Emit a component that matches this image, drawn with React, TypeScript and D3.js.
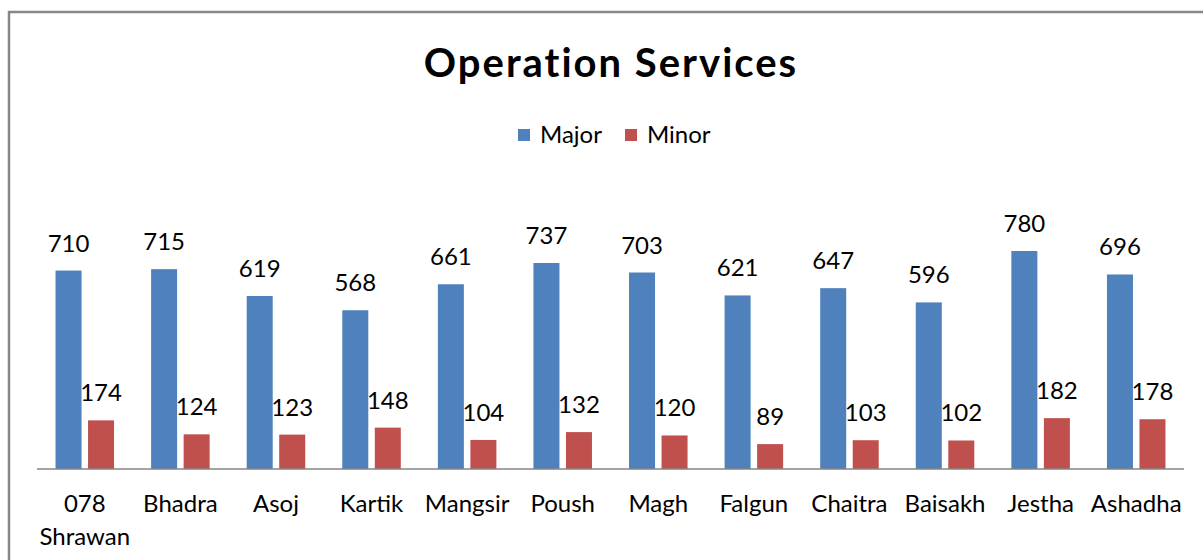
import React from 'react'
import * as d3 from 'd3'

const months = ['078 Shrawan', 'Bhadra', 'Asoj', 'Kartik', 'Mangsir', 'Poush', 'Magh', 'Falgun', 'Chaitra', 'Baisakh', 'Jestha', 'Ashadha']
const major = [710, 715, 619, 568, 661, 737, 703, 621, 647, 596, 780, 696]
const minor = [174, 124, 123, 148, 104, 132, 120, 89, 103, 102, 182, 178]
const seriesNames = ['Major', 'Minor']
const colors = ['#4F81BD', '#C0504D']

const width = 1203
const height = 560
const font = 'Lato, "Open Sans", sans-serif'

const App = () => {
  const x = d3.scaleBand<string>().domain(months).range([37, 1184]).padding(0)
  const xs = d3
    .scaleBand<string>()
    .domain(seriesNames)
    .range([0, x.bandwidth()])
    .paddingInner(0.2)
    .paddingOuter(0.57)
  const y = d3.scaleLinear().domain([0, 1000]).range([469, 189.5])

  const rows = months.map((m, i) => ({ m, vals: [major[i], minor[i]] }))

  return (
    <svg width={width} height={height} style={{ position: 'fixed', left: 0, top: 0, background: '#fff' }}>
      <rect x={9} y={12} width={1400} height={800} fill="#fff" stroke="#878787" strokeWidth={2.5} />
      <text
        x={611}
        y={77}
        textAnchor="middle"
        fontFamily={font}
        fontWeight="bold"
        fontSize={40}
        letterSpacing={2}
        fill="#000"
      >
        Operation Services
      </text>
      {seriesNames.map((s, i) => (
        <g key={s} transform={`translate(${i === 0 ? 518 : 625},0)`}>
          <rect x={0} y={129} width={12} height={12} fill={colors[i]} />
          <text x={22} y={143} fontFamily={font} fontSize={24} fill="#000">
            {s}
          </text>
        </g>
      ))}
      {rows.map((r) => (
        <g key={r.m} transform={`translate(${x(r.m)},0)`}>
          {r.vals.map((v, j) => (
            <g key={j}>
              <rect
                x={xs(seriesNames[j])}
                y={y(v)}
                width={xs.bandwidth()}
                height={y(0) - y(v)}
                fill={colors[j]}
              />
              <text
                x={(xs(seriesNames[j]) ?? 0) + xs.bandwidth() / 2}
                y={y(v) - 19}
                textAnchor="middle"
                fontFamily={font}
                fontSize={24}
                fill="#000"
              >
                {v}
              </text>
            </g>
          ))}
          {r.m.split(' ').map((line, k) => (
            <text
              key={k}
              x={x.bandwidth() / 2}
              y={512 + k * 33}
              textAnchor="middle"
              fontFamily={font}
              fontSize={24}
              fill="#000"
            >
              {line}
            </text>
          ))}
        </g>
      ))}
      <line x1={37} x2={1184} y1={469} y2={469} stroke="#868686" strokeWidth={1.5} />
    </svg>
  )
}

export default App
